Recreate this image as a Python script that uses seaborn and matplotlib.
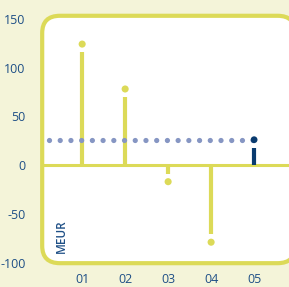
import matplotlib
matplotlib.use("Agg")
import matplotlib.pyplot as plt
from matplotlib.patches import FancyBboxPatch
import seaborn as sns
import pandas as pd

categories = ["01", "02", "03", "04", "05"]
values = [124, 78, -17, -79, 26]
average = 26
y_ticks = [-100, -50, 0, 50, 100, 150]
unit_label = "MEUR"

YELLOW = "#DCDA58"
BG = "#F4F4D9"
LIGHTBLUE = "#8696C3"
DARKBLUE = "#0A3B6F"
TEXT = "#1E4F86"

sns.set_theme(style="white")
plt.rcParams["font.family"] = ["Open Sans", "DejaVu Sans"]

fig = plt.figure(figsize=(2.89, 2.87), dpi=100, facecolor=BG)
ax = fig.add_axes([0.146, 0.083, 0.876, 0.862])
ax.set_facecolor("none")
for s in ax.spines.values():
    s.set_visible(False)

box = FancyBboxPatch((0, 0), 1, 1, boxstyle="round,pad=0,rounding_size=0.07",
                     transform=ax.transAxes, facecolor="white", edgecolor=YELLOW,
                     linewidth=3.0, clip_on=False, zorder=0, mutation_aspect=1.0)
ax.add_patch(box)

df = pd.DataFrame({"cat": categories, "val": values})
df["x"] = range(len(df))
gap = 8
df["stem"] = [v - gap if v > 0 else v + gap for v in df["val"]]
df["color"] = [YELLOW] * (len(df) - 1) + [DARKBLUE]

ax.axhline(0, color=YELLOW, lw=2.2, zorder=1)
ax.vlines(df["x"], 0, df["stem"], colors=df["color"], lw=3.0, zorder=2)

# average reference (dotted)
x0, x1 = -0.77, 4
ln, = ax.plot([x0, x1], [average, average], color=LIGHTBLUE, lw=3.8,
              dash_capstyle="round", zorder=3)
ln.set_linestyle((0, (0.001, 2.03)))

sns.scatterplot(data=df.iloc[:-1], x="x", y="val", color=YELLOW, s=26,
                edgecolor="none", ax=ax, zorder=4, legend=False)
sns.scatterplot(data=df.iloc[-1:], x="x", y="val", color=DARKBLUE, s=24,
                edgecolor="none", ax=ax, zorder=5, legend=False)

ax.set_xlim(-0.93, 4.96)
ax.set_ylim(-100.5, 153)
ax.set_xticks(df["x"])
ax.set_xticklabels(categories)
ax.set_yticks(y_ticks)
ax.set_yticklabels([str(t) for t in y_ticks])
ax.tick_params(axis="both", length=0, labelsize=9, colors=TEXT)
ax.tick_params(axis="y", pad=12)
ax.tick_params(axis="x", pad=7)
ax.set_xlabel("")
ax.set_ylabel("")

ax.text(0.049, 0.04, unit_label, transform=ax.transAxes, rotation=90,
        color=TEXT, fontsize=8.5, fontweight="semibold", ha="left", va="bottom")

fig.savefig("out.png", dpi=100, facecolor=BG)
